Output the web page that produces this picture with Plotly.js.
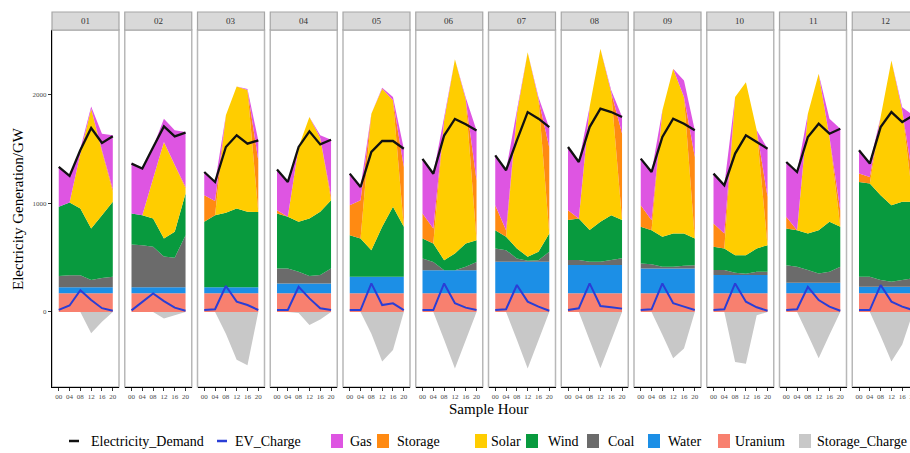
<!DOCTYPE html>
<html><head><meta charset="utf-8">
<script src="https://cdn.plot.ly/plotly-3.0.1.min.js"></script>
<style>html,body{margin:0;padding:0;overflow:hidden;background:#fff}#chart{width:930px;height:453px}</style>
</head><body><div id="chart"></div>
<script>
// ---------------- data ----------------
const months = ['01','02','03','04','05','06','07','08','09','10','11','12'];
const hours = [0, 4, 8, 12, 16, 20];
const hourLabels = ['00','04','08','12','16','20'];
const yTicks = [0, 1000, 2000];
const yTickLabels = ['0', '1000', '2000'];

const uranium = [
  [172,172,172,172,172,172],[172,172,172,172,172,172],[172,172,172,172,172,172],
  [172,172,172,172,172,172],[172,172,172,172,172,172],[172,172,172,172,172,172],
  [172,172,172,172,172,172],[172,172,172,172,172,172],[172,172,172,172,172,172],
  [172,172,172,172,172,172],[172,172,172,172,172,172],[172,172,172,172,172,172]];
const water = [
  [55,55,55,55,55,55],[55,55,55,55,55,55],[55,55,55,55,55,55],
  [90,90,90,90,90,90],[152,152,152,152,152,152],[213,213,213,213,213,213],
  [290,290,290,290,290,290],[260,260,260,260,260,260],[228,228,228,228,228,228],
  [168,168,168,168,168,168],[97,97,97,97,97,97],[60,60,60,60,60,60]];
const coal = [
  [103,110,110,67,85,97],[393,388,373,283,273,480],[0,0,0,0,0,0],
  [138,138,108,68,78,138],[0,0,0,0,0,0],[107,76,0,0,31,76],
  [122,107,31,10,15,92],[46,46,31,31,46,62],[47,40,16,16,25,31],
  [46,46,21,12,30,30],[162,147,117,86,101,147],[92,92,62,46,62,77]];
const wind = [
  [637,670,615,474,578,689],[286,275,260,166,237,382],[602,663,685,725,694,693],
  [506,475,459,530,581,628],[383,352,245,459,643,459],[183,169,92,153,214,199],
  [169,123,91,36,77,168],[368,383,291,367,413,352],[336,313,276,306,297,245],
  [214,198,162,171,214,245],[337,337,336,398,459,367],[872,857,780,704,719,704]];
const solar = [
  [0,0,505,1102,582,92],[0,0,367,888,613,46],[0,0,898,1123,1120,0],
  [0,0,689,933,680,0],[0,0,1255,1270,980,0],[0,0,1284,1788,1324,0],
  [0,0,1240,1882,1403,0],[0,0,1132,1591,1128,0],[0,0,1162,1515,1255,0],
  [0,0,1454,1591,1087,0],[0,0,1102,1438,781,0],[0,0,719,1331,841,0]];
const storage = [
  [0,0,0,0,15,25],[0,0,0,0,5,15],[245,130,0,0,0,474],
  [30,0,0,0,0,40],[275,352,0,0,0,551],[230,137,0,0,0,550],
  [229,61,0,0,0,790],[91,0,0,0,0,796],[199,92,0,0,0,750],
  [214,138,0,0,0,444],[107,0,0,0,0,150],[77,60,0,0,0,200]];
const gas = [
  [367,245,45,21,153,495],[465,429,291,214,316,505],[214,170,0,0,10,183],
  [374,321,0,0,24,517],[291,122,0,10,30,168],[504,505,30,0,20,459],
  [459,551,30,0,20,180],[582,520,0,0,20,153],[429,443,0,0,153,245],
  [459,444,0,0,0,444],[505,535,0,0,168,753],[214,124,0,0,30,595]];
const storageCharge = [
  [0,0,0,-195,-90,0],[0,0,0,-60,-30,0],[0,0,-200,-440,-490,0],
  [0,0,-10,-120,-70,0],[0,0,-200,-455,-350,0],[0,0,-255,-520,-260,0],
  [0,0,-255,-520,-260,0],[0,0,-260,-517,-260,0],[0,0,-210,-425,-335,0],
  [0,0,-460,-475,-30,0],[0,0,-210,-425,-210,0],[0,0,-220,-456,-300,0]];
const demand = [
  [1334,1252,1490,1692,1555,1616],[1365,1319,1515,1707,1616,1650],[1288,1196,1518,1625,1548,1579],
  [1310,1196,1518,1662,1542,1585],[1273,1150,1472,1573,1573,1502],[1409,1272,1623,1776,1727,1669],
  [1441,1304,1579,1839,1778,1701],[1518,1380,1701,1870,1839,1793],[1411,1288,1610,1778,1732,1671],
  [1273,1166,1457,1625,1564,1502],[1380,1288,1610,1732,1640,1686],[1487,1365,1701,1839,1747,1808]];
const evCharge = [
  [20,60,200,110,35,12],[15,95,170,100,40,12],[18,25,239,95,64,18],
  [18,18,232,125,34,18],[18,18,263,64,80,18],[18,18,263,80,40,18],
  [18,25,248,95,49,12],[18,34,263,55,43,31],[18,25,263,80,49,18],
  [18,25,263,95,43,12],[18,25,232,110,49,12],[18,18,248,95,49,18]];

// ---------------- styling ----------------
const FONT = 'Liberation Serif, Times New Roman, serif';
const W = 930, H = 453;
const PANEL_L0 = 52, PANEL_W = 67, PANEL_PITCH = 72.75;
const PANEL_TOP = 30, PANEL_BOT = 387, STRIP_TOP = 12;
const X = px => px / W;
const Y = py => 1 - py / H;

const stackSeries = [
  {name:'Uranium', data:uranium, color:'#F8806F'},
  {name:'Water', data:water, color:'#1C8FE6'},
  {name:'Coal', data:coal, color:'#6B6B6B'},
  {name:'Wind', data:wind, color:'#089A3E'},
  {name:'Solar', data:solar, color:'#FFCD00'},
  {name:'Storage', data:storage, color:'#FF8A12'},
  {name:'Gas', data:gas, color:'#DE55E2'}
];
const scColor = '#C8C8C8';
const demandColor = '#111111';
const evColor = '#2A3ED6';

const traces = [];
const layout = {
  width: W, height: H,
  margin: {l:0, r:0, t:0, b:0},
  paper_bgcolor: '#ffffff', plot_bgcolor: '#ffffff',
  showlegend: false,
  font: {family: FONT, color: '#000'},
  shapes: [], annotations: []
};

months.forEach((m, i) => {
  const sfx = i === 0 ? '' : String(i + 1);
  const xa = 'x' + sfx, ya = 'y' + sfx;
  const left = PANEL_L0 + i * PANEL_PITCH;
  // stacked areas
  stackSeries.forEach(s => {
    traces.push({
      type: 'scatter', x: hours, y: s.data[i], xaxis: xa, yaxis: ya,
      name: s.name, stackgroup: 'g' + i, mode: 'none',
      fillcolor: s.color, line: {width: 0}, hoverinfo: 'skip'
    });
  });
  traces.push({
    type: 'scatter', x: hours, y: storageCharge[i], xaxis: xa, yaxis: ya,
    name: 'Storage_Charge', mode: 'none', fill: 'tozeroy', fillcolor: scColor,
    line: {width: 0}, hoverinfo: 'skip'
  });
  traces.push({
    type: 'scatter', x: hours, y: evCharge[i], xaxis: xa, yaxis: ya,
    name: 'EV_Charge', mode: 'lines', line: {color: evColor, width: 2}, hoverinfo: 'skip'
  });
  traces.push({
    type: 'scatter', x: hours, y: demand[i], xaxis: xa, yaxis: ya,
    name: 'Electricity_Demand', mode: 'lines', line: {color: demandColor, width: 2.3}, hoverinfo: 'skip'
  });

  layout['xaxis' + sfx] = {
    domain: [X(left), X(left + PANEL_W)], anchor: ya, range: [-2.5, 22.3],
    tickvals: hours, ticktext: hourLabels, ticks: 'outside', ticklen: 3,
    tickwidth: 1, tickcolor: '#333', tickfont: {size: 7, family: FONT, color: '#4d4d4d'},
    showline: true, linecolor: '#000', linewidth: 1, showgrid: false, zeroline: false,
    fixedrange: true, automargin: false
  };
  layout['yaxis' + sfx] = {
    domain: [Y(PANEL_BOT), Y(PANEL_TOP)], anchor: xa, range: [-690, 2594],
    tickvals: yTicks, ticktext: yTickLabels, showticklabels: i === 0,
    ticks: i === 0 ? 'outside' : '', ticklen: 3, tickwidth: 1, tickcolor: '#333',
    tickfont: {size: 7, family: FONT, color: '#4d4d4d'},
    showline: i === 0, linecolor: '#000', linewidth: 1,
    showgrid: false, zeroline: false, fixedrange: true, automargin: false
  };

  // panel border
  layout.shapes.push({type:'rect', xref:'paper', yref:'paper', layer:'below',
    x0: X(left), x1: X(left + PANEL_W), y0: Y(PANEL_BOT), y1: Y(PANEL_TOP),
    line: {color:'#B8B8B8', width: 1.5}, fillcolor: 'rgba(0,0,0,0)'});
  // strip
  layout.shapes.push({type:'rect', xref:'paper', yref:'paper',
    x0: X(left), x1: X(left + PANEL_W), y0: Y(PANEL_TOP), y1: Y(STRIP_TOP),
    line: {color:'#A6A6A6', width: 1.2}, fillcolor: '#D9D9D9'});
  layout.annotations.push({xref:'paper', yref:'paper', x: X(left + PANEL_W / 2), y: Y(21),
    text: m, showarrow: false, xanchor: 'center', yanchor: 'middle',
    font: {size: 9, family: FONT, color: '#333'}});
});

// axis titles
layout.annotations.push({xref:'paper', yref:'paper', x: X(18), y: Y(209), text: 'Electricity Generation/GW',
  textangle: -90, showarrow: false, xanchor: 'center', yanchor: 'middle',
  font: {size: 15, family: FONT, color: '#000'}});
layout.annotations.push({xref:'paper', yref:'paper', x: X(489), y: Y(409), text: 'Sample Hour',
  showarrow: false, xanchor: 'center', yanchor: 'middle',
  font: {size: 15, family: FONT, color: '#000'}});

// legend (drawn)
const LEG_Y = 441;
const legendLines = [
  {name:'Electricity_Demand', color: demandColor, x0: 69, x1: 79, tx: 89},
  {name:'EV_Charge', color: evColor, x0: 217, x1: 227, tx: 233}
];
legendLines.forEach(l => {
  layout.shapes.push({type:'line', xref:'paper', yref:'paper', x0: X(l.x0), x1: X(l.x1), y0: Y(LEG_Y), y1: Y(LEG_Y),
    line: {color: l.color, width: 2.5}});
  layout.annotations.push({xref:'paper', yref:'paper', x: X(l.tx), y: Y(LEG_Y), text: l.name,
    showarrow: false, xanchor: 'left', yanchor: 'middle', font: {size: 14, family: FONT, color: '#000'}});
});
const legendBoxes = [
  {name:'Gas', color:'#DE55E2', bx: 331, tx: 348},
  {name:'Storage', color:'#FF8A12', bx: 377, tx: 395},
  {name:'Solar', color:'#FFCD00', bx: 475, tx: 489},
  {name:'Wind', color:'#089A3E', bx: 526, tx: 546},
  {name:'Coal', color:'#6B6B6B', bx: 587, tx: 606},
  {name:'Water', color:'#1C8FE6', bx: 648, tx: 666},
  {name:'Uranium', color:'#F8806F', bx: 718, tx: 733},
  {name:'Storage_Charge', color: scColor, bx: 799, tx: 815}
];
legendBoxes.forEach(b => {
  layout.shapes.push({type:'rect', xref:'paper', yref:'paper', x0: X(b.bx), x1: X(b.bx + 12),
    y0: Y(LEG_Y + 7), y1: Y(LEG_Y - 7), line: {width: 0}, fillcolor: b.color});
  layout.annotations.push({xref:'paper', yref:'paper', x: X(b.tx), y: Y(LEG_Y), text: b.name,
    showarrow: false, xanchor: 'left', yanchor: 'middle', font: {size: 14, family: FONT, color: '#000'}});
});

Plotly.newPlot('chart', traces, layout, {staticPlot: true, displayModeBar: false});
</script>
</body></html>
